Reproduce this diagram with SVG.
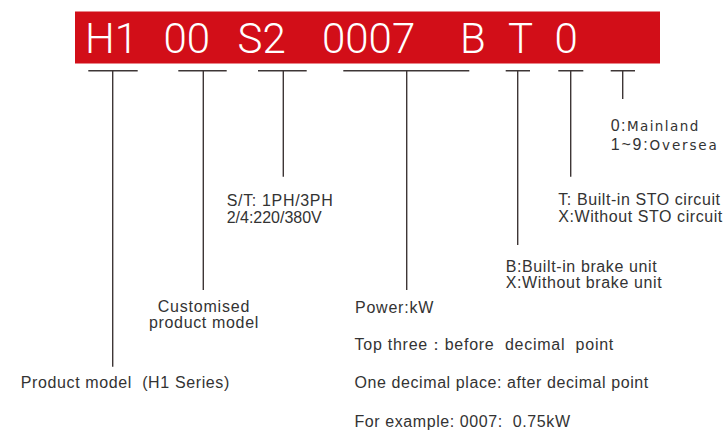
<svg xmlns="http://www.w3.org/2000/svg" width="727" height="432" viewBox="0 0 727 432">
<style>
.code{font-family:Roboto,"Liberation Sans",sans-serif;font-weight:300;font-size:42px;fill:#ffffff}
.lbl{font-family:"Liberation Sans",Arial,sans-serif;font-size:16px;fill:#333333}
.sm{font-family:"DejaVu Sans",sans-serif;font-size:13.5px}
.ln{stroke:#3e3636;stroke-width:1.4;fill:none}
.bar{stroke:#3e3636;stroke-width:1.6;fill:none}
</style>
<g id="code-bar">
<rect x="75" y="11.5" width="585" height="52" fill="#d20e18"/>
<text class="code" x="85" y="53.3">H1</text>
<text class="code" x="163.5" y="53.3">00</text>
<text class="code" x="237.5" y="53.3">S2</text>
<text class="code" x="322" y="53.3">0007</text>
<text class="code" x="460" y="53.3">B</text>
<text class="code" x="508" y="53.3">T</text>
<text class="code" x="554.5" y="53.3">0</text>
</g>
<g id="connectors">
<path class="bar" d="M88.3 70.7H137.7M178.3 70.7H226.7M258 70.7H306.7M343.3 70.7H469.3M505.7 70.7H530M558.3 70.7H583.3M610.7 70.7H635"/>
<path class="ln" d="M112.7 70.7V366.7M203.3 70.7V290M283.3 70.7V176.7M406.7 70.7V290M517.7 70.7V245M570.7 70.7V176.7M622.7 70.7V99"/>
</g>
<g id="product-model">
<text class="lbl" x="20.7" y="388.3" textLength="208.6" xml:space="preserve">Product model  (H1 Series)</text>
</g>
<g id="customised">
<text class="lbl" x="157.7" y="311.7" textLength="91.6">Customised</text>
<text class="lbl" x="149" y="328.3" textLength="109.3">product model</text>
</g>
<g id="phase-voltage">
<text class="lbl" x="226.7" y="206" textLength="106">S/T: 1PH/3PH</text>
<text class="lbl" x="226.7" y="223.3" textLength="95">2/4:220/380V</text>
</g>
<g id="power">
<text class="lbl" x="355" y="313.3" textLength="78.3">Power:kW</text>
<text class="lbl" x="354.5" y="350" textLength="258.8" xml:space="preserve">Top three：before  decimal  point</text>
<text class="lbl" x="354.5" y="388.3" textLength="293.8">One decimal place: after decimal point</text>
<text class="lbl" x="354.5" y="426.7" textLength="215.5" xml:space="preserve">For example: 0007:  0.75kW</text>
</g>
<g id="brake">
<text class="lbl" x="505.7" y="272.3" textLength="151">B:Built-in brake unit</text>
<text class="lbl" x="505.7" y="288.3" textLength="156">X:Without brake unit</text>
</g>
<g id="sto">
<text class="lbl" x="558.3" y="205" textLength="161.7">T: Built-in STO circuit</text>
<text class="lbl" x="558.3" y="221.7" textLength="164">X:Without STO circuit</text>
</g>
<g id="region">
<text class="lbl" x="610.7" y="130.7" textLength="87.6">0:<tspan class="sm">Mainland</tspan></text>
<text class="lbl" x="610.7" y="149.7" textLength="106">1~9:<tspan class="sm">Oversea</tspan></text>
</g>
</svg>
